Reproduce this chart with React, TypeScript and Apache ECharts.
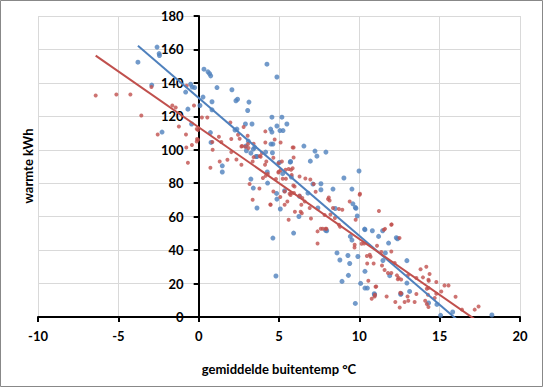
import React, { useEffect, useRef } from "react";
import * as echarts from "echarts";

const xTitle = "gemiddelde buitentemp °C";
const yTitle = "warmte kWh";
const xMin = -10, xMax = 20, xStep = 5;
const yMin = 0, yMax = 180, yStep = 20;

// series 1 (blue): [temp °C, kWh]
const bluePoints: number[][] = [
  [-3.78,152.4],[-2.59,161.4],[-2.46,157.5],[-2.44,156.4],[-2.92,138.7],[-2.28,110.6],[-0.81,134.5],[-0.5,139.2],
  [-0.4,137.5],[-0.67,124.3],[-0.44,115.4],[-0.25,137.2],[0.08,126.5],[0.27,131.5],[0.33,148.2],[0.58,146.6],
  [0.68,145.5],[0.75,144.2],[0.83,128.7],[1.14,137.2],[0.83,123.9],[0.73,110.3],[0.77,104.4],[1.47,90.4],
  [1.47,86.7],[2.07,135.9],[2.32,129.3],[2.42,130.2],[3.05,123.5],[3.13,128.5],[3.32,115.4],[2.91,115.4],
  [2.26,111.8],[2.38,112.4],[3.09,105.2],[2.93,102.2],[3.25,98],[3.49,101.4],[3.57,96],[4.25,151.2],
  [4.87,143.5],[4.56,119.5],[5.18,119.5],[4.48,112.4],[4.56,110.6],[4.87,114.2],[5.06,111.5],[5.25,111.5],
  [5.49,115.4],[4.5,103.4],[4.62,103.4],[2.97,99.4],[3.4,100.4],[3.63,96],[4.17,98.6],[4.59,98.2],
  [3.25,82.5],[3.4,77.1],[4.29,80.1],[3.63,65.2],[4.27,86.7],[4.85,73.9],[4.87,70.5],[5.08,64.6],
  [5.35,75.5],[4.62,47.2],[4.81,24.5],[5.91,50.2],[5.02,92.4],[5.23,85.7],[5.72,93],[5.77,83.7],
  [6.55,102.2],[7.24,99.2],[7.36,96.2],[6.95,93.2],[7.92,98.6],[5.7,92.6],[9.98,87.3],[9.04,83.1],
  [7.61,79.7],[7.61,76.1],[7.11,79.5],[8.36,76.5],[9.54,76.5],[6.8,74.1],[6.28,72.1],[9.6,67.7],
  [9.75,65.5],[9.79,65],[7.42,65.2],[8.5,64.9],[6.24,60.1],[9.87,60.4],[10.33,52.6],[7.97,51.6],
  [7.9,51.9],[8.61,38.3],[8.79,34.1],[9.29,36.8],[9.4,32],[9.91,36.2],[9.32,24.9],[8.92,21.3],
  [9.75,8.1],[10.08,20.1],[10.35,27.3],[10.35,17.3],[10.5,17.3],[10.93,13.9],[10.95,13.3],[10.35,52.2],
  [10.81,51.6],[9.44,48.2],[9.54,46],[11.2,48.2],[11.45,51.6],[11.82,44.2],[12.38,46.8],[12.3,47.4],
  [11.62,38.3],[11.47,33.8],[11.89,24.7],[12.96,33.7],[12.96,20.3],[13.13,15.3],[12.57,13.6],[12.6,13.9],
  [14.31,8.4],[15.06,1],[15.81,3],[18.25,1.2],[14.83,7.5],
];

// series 2 (red): [temp °C, kWh]
const redPoints: number[][] = [
  [-6.41,132.5],[-5.12,133.1],[-4.25,133],[-3.57,120.5],[-2.94,137.5],[-2.55,109.1],[-1.64,126.5],[-1.43,125.3],
  [-0.75,138.3],[-0.29,126.5],[-0.79,109.1],[-1.23,113.9],[-0.42,102.8],[-0.77,101.4],[-0.12,105],[-0.1,106.5],
  [0.2,119.3],[-0.04,111.8],[0.54,119.3],[-0.12,112.4],[1.97,116.3],[1.26,107.8],[2.03,106.4],[2.8,113.6],
  [2.55,106.6],[2.66,102],[3.07,103.4],[3.1,101],[4.15,111],[4.15,104.4],[4.73,106.2],[5.1,104.4],
  [5.85,101.4],[-0.04,106],[0.85,104.6],[1.41,104.6],[0.73,89.2],[0.87,100],[1.31,93],[1.79,94],
  [2.35,94.2],[2.66,91],[2.03,98.6],[2.7,102.2],[2.9,101.8],[3.36,93],[3.86,95.8],[3.8,96.3],
  [4.13,91],[4.0,83.1],[4.17,84.4],[4.3,85.5],[3.17,79.5],[3.78,76.9],[3.36,70.1],[4.48,67.1],
  [4.65,75.1],[4.81,82.5],[4.98,86.9],[5.1,87.8],[5.08,71.7],[5.23,82.7],[5.43,82.7],[5.18,93],
  [5.41,88],[5.6,88.5],[5.75,88],[5.85,89],[5.35,75.1],[5.66,73.7],[5.72,72.9],[5.52,69.1],
  [5.35,67.1],[5.6,58.2],[5.89,78.7],[5.93,74.1],[5.91,101.4],[5.91,95.4],[4.65,95.2],[4.96,92],
  [4.96,86.4],[5.79,85],[6.28,84],[6.64,82.8],[6.95,82.2],[7.16,79.5],[5.97,78.1],[7.28,74.9],
  [5.77,74.1],[8.05,70.5],[8.1,71.5],[8.15,69.7],[6.28,72.7],[6.45,71.1],[6.6,69.1],[6.39,67.1],
  [6.91,65.2],[8.36,65.2],[8.73,64.6],[8.94,64.1],[9.4,69.1],[10.02,73.1],[6.35,62.9],[6.42,62],
  [5.99,62.9],[6.99,58.9],[7.84,61],[8.2,61.3],[8.48,59.2],[8.73,55.2],[8.8,54],[7.6,52.8],
  [7.95,52.8],[9.77,58.2],[11.22,63.4],[7.4,51.2],[7.72,52.8],[7.9,52.8],[7.4,44],[9.71,43.2],
  [9.7,41.5],[10.14,43.8],[10.3,44],[10.47,36.5],[10.7,36],[10.65,37.2],[10.49,32],[10.89,32],
  [10.56,21.7],[11.01,18.1],[10.97,13.3],[10.77,10.9],[11.99,55.2],[11.53,52.2],[11.6,52.7],[11.1,42.6],
  [11.37,38.9],[11.99,39.2],[12.2,32.3],[11.41,30.8],[11.57,28.1],[11.78,26.3],[11.99,26.3],[12.34,24.9],
  [12.4,22.6],[12.6,22.4],[12.45,23.4],[13.02,24.9],[13.55,23.3],[13.96,23.7],[14.17,30.1],[13.81,28.5],
  [14.37,25.7],[14.3,22.3],[14.32,21.6],[14.79,20.9],[15.3,18.9],[15.55,18.9],[15.99,12.1],[15.1,15.3],
  [14.79,13.9],[14.69,11.4],[14.27,13.3],[14.2,16.9],[14.3,17.3],[14.1,9.7],[14.2,7.8],[14.3,6],
  [13.55,13.7],[13.44,9],[12.82,9],[12.51,5.7],[12.24,9],[13.05,9.7],[13,12.3],[11.7,12.3],
  [12.55,14.5],[12.6,14],[10.95,12.3],[11.05,18.3],[16.39,4.4],[17.18,4.4],[17.42,6.3],[12.01,55.4],
  [12.5,47.2],[10.04,73.7],[4.46,67.3],[-0.67,92.2],[2.45,109],[3.05,108.4],[3.42,103.6],[3.42,95.6],
  [3.94,98],[4.21,93],
];

function fit(points: number[][]) {
  const n = points.length;
  let sx = 0, sy = 0, sxx = 0, sxy = 0;
  for (const [x, y] of points) { sx += x; sy += y; sxx += x * x; sxy += x * y; }
  const slope = (n * sxy - sx * sy) / (n * sxx - sx * sx);
  const intercept = (sy - slope * sx) / n;
  const xs = points.map((p) => p[0]);
  const a = Math.min(...xs), b = Math.max(...xs);
  return [[a, intercept + slope * a], [b, intercept + slope * b]];
}

const BLUE = "#4F81BD";
const RED = "#C0504D";
const FONT = "Lato, 'Open Sans', sans-serif";
const W = 544, H = 388;
const GRID = { left: 38, right: 24, top: 16, bottom: 71 };

export default function App() {
  const ref = useRef<HTMLDivElement>(null);
  useEffect(() => {
    if (!ref.current) return;
    const chart = echarts.init(ref.current, null, { renderer: "svg" });
    const labelStyle = { color: "#000", fontWeight: "bold" as const, fontSize: 13, fontFamily: FONT };
    // the vertical axis crosses the horizontal one at x = 0
    const plotW = W - GRID.left - GRID.right;
    const zeroOffset = -plotW * (0 - xMin) / (xMax - xMin);
    chart.setOption({
      animation: false,
      grid: { ...GRID, containLabel: false },
      xAxis: {
        type: "value", min: xMin, max: xMax, interval: xStep,
        axisLine: { onZero: false, lineStyle: { color: "#000", width: 2 } },
        axisTick: { show: true, length: 5, lineStyle: { color: "#000", width: 2 } },
        axisLabel: { ...labelStyle, margin: 12 },
        splitLine: { show: true, lineStyle: { color: "#d9d9d9", width: 1 } },
        name: xTitle, nameLocation: "middle", nameGap: 45,
        nameTextStyle: { ...labelStyle },
      },
      yAxis: {
        type: "value", min: yMin, max: yMax, interval: yStep,
        position: "left", offset: zeroOffset,
        axisLine: { show: true, onZero: false, lineStyle: { color: "#000", width: 2 } },
        axisTick: { show: true, length: 5, lineStyle: { color: "#000", width: 2 } },
        axisLabel: { ...labelStyle, margin: 15 },
        splitLine: { show: true, lineStyle: { color: "#d9d9d9", width: 1 } },
      },
      graphic: [
        { type: "rect", shape: { x: 0.5, y: 0.5, width: 542, height: 386 }, style: { fill: "none", stroke: "#888", lineWidth: 1 }, silent: true, z: -10 },
        { type: "text", x: 28, y: 166, rotation: Math.PI / 2, style: { text: yTitle, fill: "#000", font: `bold 13px ${FONT}`, textAlign: "center", textVerticalAlign: "middle" } },
      ],
      series: [
        { type: "scatter", data: bluePoints, symbolSize: 5, itemStyle: { color: BLUE }, z: 2 },
        { type: "scatter", data: redPoints, symbolSize: 4, itemStyle: { color: RED }, z: 3 },
        { type: "line", data: fit(bluePoints), symbol: "none", lineStyle: { color: BLUE, width: 2 }, z: 4, clip: true },
        { type: "line", data: fit(redPoints), symbol: "none", lineStyle: { color: RED, width: 2 }, z: 4, clip: true },
      ],
    });
    return () => chart.dispose();
  }, []);
  return <div ref={ref} style={{ position: "absolute", left: 0, top: 0, width: W, height: H, background: "#fff" }} />;
}
